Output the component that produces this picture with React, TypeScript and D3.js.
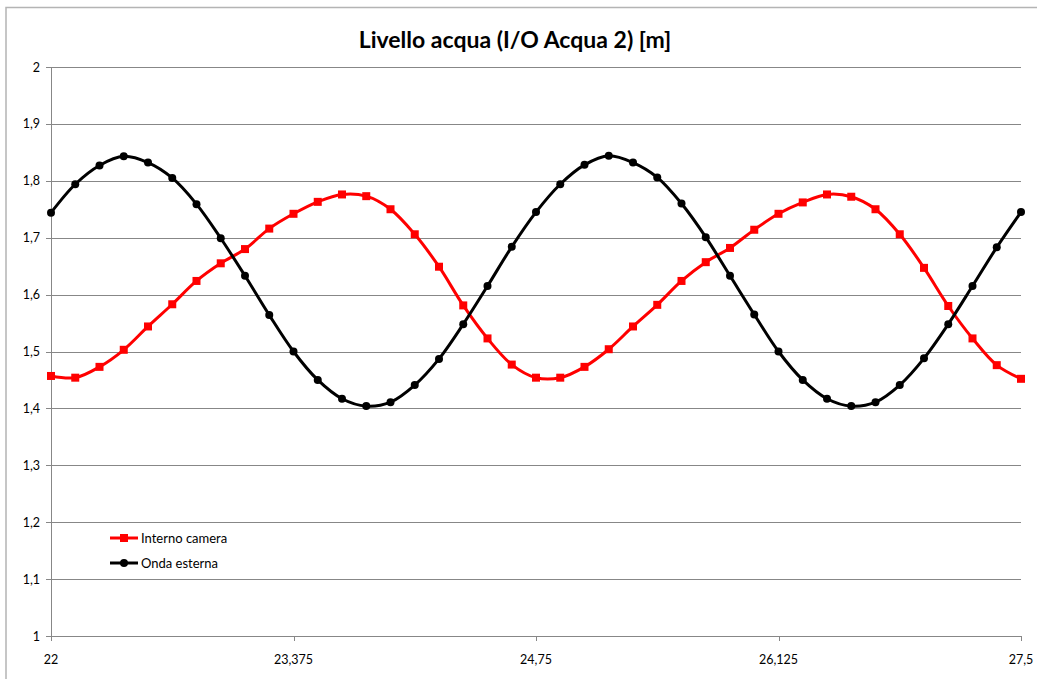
import React from "react";
import * as d3 from "d3";

const title = "Livello acqua (I/O Acqua 2) [m]";
const xStart = 22;
const xStep = 0.1375;
const xTicks = [22, 23.375, 24.75, 26.125, 27.5];
const yTicks = [1, 1.1, 1.2, 1.3, 1.4, 1.5, 1.6, 1.7, 1.8, 1.9, 2];

const seriesNames = ["Interno camera", "Onda esterna"];
const interno = [
  1.457, 1.454, 1.473, 1.503, 1.544, 1.583, 1.624, 1.655, 1.68, 1.716, 1.742,
  1.763, 1.776, 1.773, 1.75, 1.706, 1.649, 1.581, 1.523, 1.477, 1.454, 1.454,
  1.473, 1.504, 1.544, 1.582, 1.624, 1.657, 1.682, 1.714, 1.742, 1.762, 1.776,
  1.772, 1.75, 1.706, 1.647, 1.58, 1.523, 1.476, 1.452,
];
const onda = [
  1.744, 1.794, 1.827, 1.843, 1.832, 1.805, 1.759, 1.699, 1.633, 1.564, 1.5,
  1.45, 1.417, 1.404, 1.411, 1.441, 1.487, 1.548, 1.615, 1.684, 1.745, 1.794,
  1.828, 1.844, 1.832, 1.806, 1.76, 1.701, 1.633, 1.565, 1.5, 1.45, 1.417,
  1.404, 1.411, 1.441, 1.488, 1.548, 1.615, 1.683, 1.745,
];

const W = 1037;
const H = 679;
const FONT = "Lato, 'Open Sans', sans-serif";

const fmt = (v: number) => String(+v.toFixed(3)).replace(".", ",");

export default function App() {
  const x = d3.scaleLinear().domain([22, 27.5]).range([51, 1021]);
  const y = d3.scaleLinear().domain([1, 2]).range([636, 67]);
  const line = d3
    .line<number>()
    .x((_, i) => x(xStart + i * xStep))
    .y((d) => y(d))
    .curve(d3.curveCatmullRom.alpha(0.5));

  return (
    <svg
      width={W}
      height={H}
      style={{ position: "absolute", left: 0, top: 0, background: "#fff" }}
      fontFamily={FONT}
    >
      <rect x={6} y={7.5} width={W + 10} height={H + 10} fill="#fff" stroke="#b4b4b4" strokeWidth={1.5} />
      <text x={515} y={48} textAnchor="middle" fontSize={23} fontWeight="bold" fill="#000">
        {title}
      </text>
      {yTicks.map((t) => (
        <g key={t}>
          <line x1={46} x2={1021} y1={Math.round(y(t)) + 0.5} y2={Math.round(y(t)) + 0.5} stroke="#878787" strokeWidth={1} />
          <text x={40} y={y(t) + 4.5} textAnchor="end" fontSize={12.5} fill="#000">
            {fmt(t)}
          </text>
        </g>
      ))}
      <line x1={51.5} x2={51.5} y1={67} y2={636} stroke="#878787" strokeWidth={1} />
      {xTicks.map((t) => (
        <g key={t}>
          <line x1={Math.round(x(t)) + 0.5} x2={Math.round(x(t)) + 0.5} y1={636} y2={641} stroke="#878787" strokeWidth={1} />
          <text x={x(t)} y={664} textAnchor="middle" fontSize={12.5} fill="#000">
            {fmt(t)}
          </text>
        </g>
      ))}
      <path d={line(interno) || ""} fill="none" stroke="#ff0000" strokeWidth={3} />
      <path d={line(onda) || ""} fill="none" stroke="#000" strokeWidth={3} />
      {interno.map((v, i) => (
        <rect key={"r" + i} x={x(xStart + i * xStep) - 4} y={y(v) - 4} width={8} height={8} fill="#ff0000" />
      ))}
      {onda.map((v, i) => (
        <circle key={"c" + i} cx={x(xStart + i * xStep)} cy={y(v)} r={4} fill="#000" />
      ))}
      <g>
        <line x1={110} x2={138} y1={538} y2={538} stroke="#ff0000" strokeWidth={3} />
        <rect x={120} y={534} width={8} height={8} fill="#ff0000" />
        <text x={141} y={542.5} fontSize={13} fill="#000">{seriesNames[0]}</text>
        <line x1={110} x2={138} y1={563} y2={563} stroke="#000" strokeWidth={3} />
        <circle cx={124} cy={563} r={4} fill="#000" />
        <text x={141} y={567.5} fontSize={13} fill="#000">{seriesNames[1]}</text>
      </g>
    </svg>
  );
}
